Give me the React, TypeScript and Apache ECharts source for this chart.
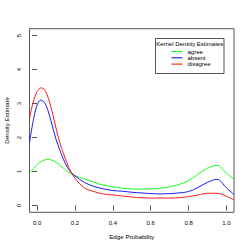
import React, { useEffect, useRef } from "react";
import * as echarts from "echarts";

const xs = [-0.04, -0.02, 0, 0.02, 0.04, 0.06, 0.08, 0.1, 0.12, 0.14, 0.16, 0.18, 0.2, 0.25, 0.3, 0.35, 0.4, 0.45, 0.5, 0.55, 0.6, 0.65, 0.7, 0.75, 0.8, 0.85, 0.9, 0.95, 1.0, 1.04];
const agree = [0.95, 1.08, 1.2, 1.29, 1.34, 1.36, 1.33, 1.27, 1.18, 1.09, 1.0, 0.94, 0.88, 0.78, 0.68, 0.6, 0.55, 0.51, 0.49, 0.48, 0.49, 0.51, 0.55, 0.62, 0.73, 0.92, 1.1, 1.18, 0.95, 0.77];
const absent = [1.85, 2.5, 2.95, 3.1, 3.02, 2.75, 2.35, 1.95, 1.63, 1.35, 1.12, 0.97, 0.87, 0.68, 0.56, 0.49, 0.44, 0.42, 0.39, 0.37, 0.35, 0.34, 0.35, 0.37, 0.41, 0.53, 0.68, 0.77, 0.52, 0.32];
const disagree = [2.56, 3.05, 3.35, 3.46, 3.4, 3.15, 2.75, 2.28, 1.85, 1.52, 1.22, 0.98, 0.8, 0.52, 0.41, 0.34, 0.31, 0.28, 0.25, 0.23, 0.22, 0.22, 0.22, 0.23, 0.26, 0.31, 0.36, 0.36, 0.27, 0.17];
const xTicks = [0, 0.2, 0.4, 0.6, 0.8, 1.0];
const yTicks = [0, 1, 2, 3, 4, 5];
const seriesNames = ["agree", "absent", "disagree"];
const seriesColors = ["#00ff00", "#0000ff", "#ff0000"];

const FONT = "Liberation Sans";

export default function App() {
  const ref = useRef<HTMLDivElement>(null);
  useEffect(() => {
    if (!ref.current) return;
    const chart = echarts.init(ref.current, null, { renderer: "svg" });
    const values = [agree, absent, disagree];
    chart.setOption({
      animation: false,
      backgroundColor: "#ffffff",
      grid: {
        left: 29.5,
        top: 28.7,
        right: 15,
        bottom: 36.7,
        show: true,
        borderColor: "#555",
        borderWidth: 1,
        containLabel: false,
      },
      xAxis: {
        type: "value",
        min: -0.04,
        max: 1.04,
        name: "Edge Probability",
        nameLocation: "middle",
        nameGap: 21,
        nameTextStyle: { fontFamily: FONT, fontSize: 6.2, color: "#000" },
        axisLine: { show: false },
        splitLine: { show: false },
        axisTick: { show: true, length: 5, lineStyle: { color: "#555" }, customValues: xTicks },
        axisLabel: {
          fontFamily: FONT,
          fontSize: 6,
          color: "#000",
          margin: 8,
          customValues: xTicks,
          formatter: (v: number) => v.toFixed(1),
        },
      },
      yAxis: {
        type: "value",
        min: -0.2,
        max: 5.2,
        axisLine: { show: false },
        splitLine: { show: false },
        axisTick: { show: true, length: 5, lineStyle: { color: "#555" }, customValues: yTicks },
        axisLabel: {
          fontFamily: FONT,
          fontSize: 6,
          color: "#000",
          margin: 8,
          rotate: 90,
          customValues: yTicks,
          formatter: (v: number) => String(v),
        },
      },
      legend: {
        show: true,
        orient: "vertical",
        left: 171,
        top: 48.5,
        itemWidth: 11,
        itemHeight: 7,
        itemGap: 0.3,
        padding: 0,
        data: seriesNames,
        itemStyle: { opacity: 0 },
        lineStyle: { width: 1 },
        textStyle: { fontFamily: FONT, fontSize: 6, color: "#000", padding: [0, 0, 0, 0] },
      },
      graphic: [
        {
          type: "rect",
          shape: { x: 155.5, y: 38.5, width: 68.5, height: 35 },
          style: { fill: "#fff", stroke: "#555", lineWidth: 1 },
          z: -1,
          silent: true,
        },
        {
          type: "text",
          x: 189.7,
          y: 43.5,
          style: {
            text: "Kernel Density Estimates",
            fontFamily: FONT,
            fontSize: 6,
            fill: "#000",
            align: "center",
            verticalAlign: "middle",
          },
        },
        {
          type: "text",
          x: 6.5,
          y: 120.5,
          rotation: Math.PI / 2,
          style: {
            text: "Density Estimate",
            fontFamily: FONT,
            fontSize: 6.2,
            fill: "#000",
            align: "center",
            verticalAlign: "middle",
          },
        },
      ],
      series: seriesNames.map((name, i) => ({
        name,
        type: "line",
        data: xs.map((x, j) => [x, values[i][j]]),
        smooth: 0.35,
        symbol: "none",
        clip: true,
        lineStyle: { color: seriesColors[i], width: 0.9 },
        itemStyle: { color: seriesColors[i] },
      })),
    });
    return () => chart.dispose();
  }, []);
  return <div ref={ref} style={{ width: 249, height: 249, position: "absolute", left: 0, top: 0 }} />;
}
